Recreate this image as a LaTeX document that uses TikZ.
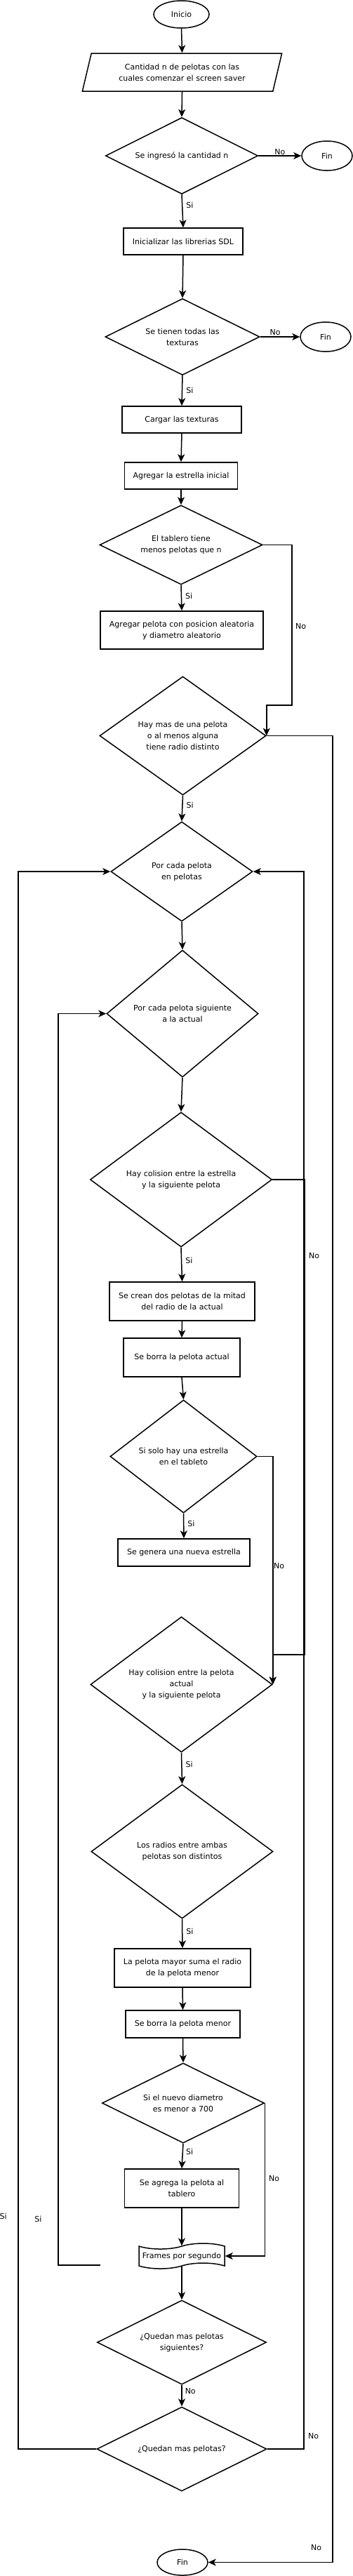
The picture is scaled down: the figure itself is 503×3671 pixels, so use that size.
\documentclass[tikz,border=0pt]{standalone}
\usepackage{fontspec}
\setmainfont{DejaVu Sans}
\usepackage{tikz}
\usetikzlibrary{shapes.geometric, shapes.symbols, arrows.meta}

\begin{document}
\begin{tikzpicture}[
        x=1pt, y=-1pt,
        every node/.style={font=\fontsize{11pt}{16pt}\selectfont, align=center},
        base/.style={draw, line width=1.5pt, inner sep=0pt},
        proc/.style={base, rectangle},
        decision/.style={base, diamond, aspect=2},
        term/.style={base, ellipse},
        datos/.style={base, trapezium, trapezium left angle=70, trapezium right angle=110, trapezium stretches=true},
        cinta/.style={base, tape, tape bend height=8pt},
        arrow/.style={line width=1.5pt, -{Stealth[length=11pt, width=10pt, inset=3pt]}},
        lbl/.style={inner sep=1pt}
    ]
        \useasboundingbox (0,0) rectangle (503,3671);

        \node[term, minimum width=79pt, minimum height=39pt] (inicio) at (258.5,20.5) {Inicio};
        \node[datos, minimum width=285pt, minimum height=54pt] (cantidad) at (259.5,103) {Cantidad n de pelotas con las\\cuales comenzar el screen saver};
        \node[decision, minimum width=217pt, minimum height=109pt] (ingreso) at (259,222) {Se ingresó la cantidad n};
        \node[term, minimum width=72pt, minimum height=42pt] (fin1) at (466,222) {Fin};
        \node[proc, minimum width=170pt, minimum height=38pt] (sdl) at (261,344) {Inicializar las librerias SDL};
        \node[decision, minimum width=220pt, minimum height=109pt] (texturas) at (260,480) {Se tienen todas las\\texturas};
        \node[term, minimum width=72pt, minimum height=42pt] (fin2) at (464,480) {Fin};
        \node[proc, minimum width=170pt, minimum height=38pt] (cargar) at (259,598) {Cargar las texturas};
        \node[proc, minimum width=161pt, minimum height=38pt] (estrella) at (258,678) {Agregar la estrella inicial};
        \node[decision, minimum width=232pt, minimum height=113pt] (menos) at (258,776.5) {El tablero tiene\\menos pelotas que n};
        \node[proc, minimum width=232pt, minimum height=54pt] (agregar) at (259,898) {Agregar pelota con posicion aleatoria\\y diametro aleatorio};
        \node[decision, minimum width=237pt, minimum height=169pt] (variasr) at (260.5,1048.5) {Hay mas de una pelota\\o al menos alguna\\tiene radio distinto};
        \node[decision, minimum width=202pt, minimum height=142pt] (porcada) at (259,1242) {Por cada pelota\\en pelotas};
        \node[decision, minimum width=216pt, minimum height=181pt] (siguiente) at (260,1444.5) {Por cada pelota siguiente\\a la actual};
        \node[decision, minimum width=259pt, minimum height=192pt] (colest) at (258,1681) {Hay colision entre la estrella\\y la siguiente pelota};
        \node[proc, minimum width=207pt, minimum height=55pt] (crean) at (259.5,1854.5) {Se crean dos pelotas de la mitad\\del radio de la actual};
        \node[proc, minimum width=166pt, minimum height=55pt] (borraact) at (259,1934.5) {Se borra la pelota actual};
        \node[decision, minimum width=209pt, minimum height=161pt] (solo) at (261.5,2075.5) {Si solo hay una estrella\\en el tableto};
        \node[proc, minimum width=188pt, minimum height=39pt] (genera) at (262,2212.5) {Se genera una nueva estrella};
        \node[decision, minimum width=259pt, minimum height=193pt] (colpel) at (258.5,2400.5) {Hay colision entre la pelota\\actual\\y la siguiente pelota};
        \node[decision, minimum width=259pt, minimum height=191pt] (radios) at (259.5,2638.5) {Los radios entre ambas\\pelotas son distintos};
        \node[proc, minimum width=194pt, minimum height=55pt] (suma) at (260,2804.5) {La pelota mayor suma el radio\\de la pelota menor};
        \node[proc, minimum width=163pt, minimum height=39pt] (borramen) at (260.5,2884.5) {Se borra la pelota menor};
        \node[decision, minimum width=231pt, minimum height=114pt] (diametro) at (261,2997) {Si el nuevo diametro\\es menor a 700};
        \node[proc, minimum width=163pt, minimum height=55pt] (agrega) at (259,3118.5) {Se agrega la pelota al\\tablero};
        \node[cinta, minimum width=122pt, minimum height=36pt] (frames) at (259,3215) {Frames por segundo};
        \node[decision, minimum width=241pt, minimum height=120pt] (quedansig) at (259,3338) {¿Quedan mas pelotas\\siguientes?};
        \node[decision, minimum width=242pt, minimum height=120pt] (quedan) at (259,3490) {¿Quedan mas pelotas?};
        \node[term, minimum width=72pt, minimum height=37pt] (fin3) at (260,3651.5) {Fin};
        \coordinate (suelto) at (143,3228);

        \draw[arrow] (inicio.south) -- (cantidad.north);
        \draw[arrow] (cantidad.south) -- (ingreso.north);
        \draw[arrow] (ingreso.east) -- node[lbl, above, pos=.5] (no1) {No} (fin1.west);
        \draw[arrow] (ingreso.south) -- node[lbl, right=4pt, pos=.32] (si1) {Si} (sdl.north);
        \draw[arrow] (sdl.south) -- (texturas.north);
        \draw[arrow] (texturas.east) -- node[lbl, above=1pt, pos=.38] (no2) {No} (fin2.west);
        \draw[arrow] (texturas.south) -- node[lbl, right=4pt, pos=.48] (si2) {Si} (cargar.north);
        \draw[arrow] (cargar.south) -- (estrella.north);
        \draw[arrow] (estrella.south) -- (menos.north);
        \draw[arrow] (menos.south) -- node[lbl, right=4pt, pos=.42] (si3) {Si} (agregar.north);
        \draw[arrow] (menos.east) -| (416,1005) -| (variasr.east);
        \node[lbl] (no3) at (428.5,893) {No};
        \draw[arrow] (variasr.south) -- node[lbl, right=4pt, pos=.37] (si4) {Si} (porcada.north);
        \draw[arrow] (variasr.east) -- (474,1048.5) |- (fin3.east);
        \node[lbl] (no4) at (450.5,3630.5) {No};
        \draw[arrow] (porcada.south) -- (siguiente.north);
        \draw[arrow] (siguiente.south) -- (colest.north);
        \draw[arrow] (colest.south) -- node[lbl, right=4pt, pos=.38] (si5) {Si} (crean.north);
        \draw[arrow] (colest.east) -| (434,2358) -| (colpel.east);
        \node[lbl] (no5) at (447.5,1789.5) {No};
        \draw[arrow] (crean.south) -- (borraact.north);
        \draw[arrow] (borraact.south) -- (solo.north);
        \draw[arrow] (solo.south) -- node[lbl, right=4pt, pos=.4] (si6) {Si} (genera.north);
        \draw[arrow] (solo.east) -| (colpel.east);
        \node[lbl] (no6) at (397.5,2231.5) {No};
        \draw[arrow] (colpel.south) -- node[lbl, right=4pt, pos=.37] (si7) {Si} (radios.north);
        \draw[arrow] (radios.south) -- node[lbl, right=4pt, pos=.42] (si8) {Si} (suma.north);
        \draw[arrow] (suma.south) -- (borramen.north);
        \draw[arrow] (borramen.south) -- (diametro.north);
        \draw[arrow] (diametro.south) -- node[lbl, right=3pt, pos=.32] (si9) {Si} (agrega.north);
        \draw[arrow] (diametro.east) |- (frames.east);
        \node[lbl] (no7) at (390.5,3104.5) {No};
        \draw[arrow] (agrega.south) -- (frames.north);
        \draw[arrow] (frames.south) -- (quedansig.north);
        \draw[arrow] (quedansig.south) -- node[lbl, right=3pt, pos=.28] (no8) {No} (quedan.north);
        \draw[arrow] (suelto) -| (83,1444.5) -- (siguiente.west);
        \node[lbl] (si11) at (54.5,3162) {Si};
        \draw[arrow] (quedan.west) -| (26,1242) -- (porcada.west);
        \node[lbl] (si10) at (4.7,3158.5) {Si};
        \draw[arrow] (quedan.east) -| (433,1242) -- (porcada.east);
        \node[lbl] (no9) at (446.5,3472) {No};
    \end{tikzpicture}
\end{document}
